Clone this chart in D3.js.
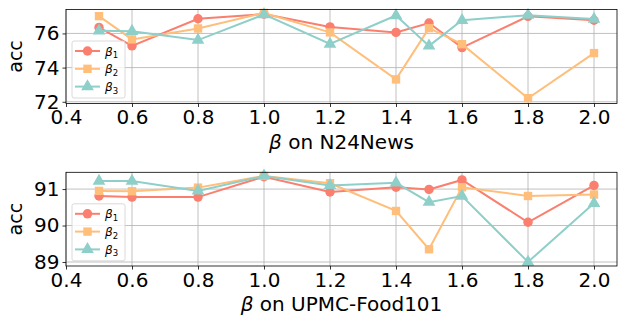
<!DOCTYPE html>
<html><head><meta charset="utf-8">
<script src="https://cdn.jsdelivr.net/npm/d3@7"></script>
<style>body{margin:0;background:#fff}svg{display:block}text{font-family:"DejaVu Sans",sans-serif}</style>
</head><body><svg id="c" width="618" height="325"></svg>
<script>
const betas = [0.5, 0.6, 0.8, 1.0, 1.2, 1.4, 1.5, 1.6, 1.8, 2.0];
const xTicks = [0.4, 0.6, 0.8, 1.0, 1.2, 1.4, 1.6, 1.8, 2.0];
const seriesNames = ["β1", "β2", "β3"];
const n24_b1 = [76.35, 75.27, 76.86, 77.13, 76.38, 76.06, 76.61, 75.17, 77.0, 76.77];
const n24_b2 = [77.01, 75.65, 76.29, 77.2, 76.06, 73.31, 76.31, 75.37, 72.21, 74.85];
const n24_b3 = [76.15, 76.13, 75.61, 77.11, 75.38, 77.05, 75.27, 76.77, 77.07, 76.84];
const n24_yTicks = [72, 74, 76];
const food_b1 = [90.81, 90.78, 90.78, 91.34, 90.92, 91.05, 90.99, 91.25, 90.09, 91.1];
const food_b2 = [90.95, 90.94, 91.04, 91.36, 91.16, 90.40, 89.35, 91.05, 90.81, 90.85];
const food_b3 = [91.22, 91.22, 90.95, 91.36, 91.1, 91.17, 90.64, 90.81, 89.0, 90.61];
const food_yTicks = [89, 90, 91];

const colors = ["#FA7F6F", "#FFBE7A", "#8ECFC9"];
const shapes = [d3.symbolCircle, d3.symbolSquare, d3.symbolTriangle];
const shapeSizes = [70, 70, 70];

const svg = d3.select("#c");
const L = 66, R = 617;

function panel(cfg) {
  const x = d3.scaleLinear().domain([0.4, 2.0]).range([L, 594]);
  // extend domain to right edge
  const x2 = d3.scaleLinear().domain([0.4, x.invert(R)]).range([L, R]);
  const y = d3.scaleLinear().domain(cfg.yDomain).range([cfg.bottom, cfg.top]);
  const g = svg.append("g");
  // grid
  g.selectAll(".gx").data(xTicks).join("line")
    .attr("x1", d => x2(d)).attr("x2", d => x2(d))
    .attr("y1", cfg.top).attr("y2", cfg.bottom)
    .attr("stroke", "#b0b0b0").attr("stroke-width", 0.8);
  g.selectAll(".gy").data(cfg.yTicks).join("line")
    .attr("x1", L).attr("x2", R)
    .attr("y1", d => y(d)).attr("y2", d => y(d))
    .attr("stroke", "#b0b0b0").attr("stroke-width", 0.8);
  // series
  const line = d3.line().x((d, i) => x2(betas[i])).y(d => y(d));
  cfg.series.forEach((s, k) => {
    g.append("path").datum(s).attr("d", line)
      .attr("fill", "none").attr("stroke", colors[k]).attr("stroke-width", 2);
    g.selectAll(".m" + k).data(s).join("path")
      .attr("transform", (d, i) => `translate(${x2(betas[i])},${y(d)})`)
      .attr("d", d3.symbol().type(shapes[k]).size(shapeSizes[k]))
      .attr("fill", colors[k]);
  });
  // axes
  const xa = g.append("g").attr("transform", `translate(0,${cfg.bottom})`)
    .call(d3.axisBottom(x2).tickValues(xTicks).tickFormat(d3.format(".1f")).tickSize(3.5).tickPadding(3));
  xa.selectAll("text").attr("font-size", 20).attr("fill", "#000");
  const ya = g.append("g").attr("transform", `translate(${L},0)`)
    .call(d3.axisLeft(y).tickValues(cfg.yTicks).tickFormat(d3.format("d")).tickSize(3.5).tickPadding(3));
  ya.selectAll("text").attr("font-size", 20).attr("fill", "#000");
  [xa, ya].forEach(a => { a.select(".domain").remove(); a.selectAll("line").attr("stroke", "#000").attr("stroke-width", 0.8); });
  // frame
  g.append("rect").attr("x", L).attr("y", cfg.top).attr("width", R - L).attr("height", cfg.bottom - cfg.top)
    .attr("fill", "none").attr("stroke", "#000").attr("stroke-width", 0.8);
  // labels
  g.append("text").attr("transform", `translate(${22},${(cfg.top + cfg.bottom) / 2}) rotate(-90)`)
    .attr("text-anchor", "middle").attr("font-size", 19).text("acc");
  const xl = g.append("text").attr("x", (L + R) / 2).attr("y", cfg.xlabelY)
    .attr("text-anchor", "middle").attr("font-size", 20);
  xl.append("tspan").attr("font-style", "italic").text("β");
  xl.append("tspan").text(" on " + cfg.name);
  // legend
  const lg = g.append("g");
  const lx = 72, ly = cfg.top + cfg.legendOff;
  lg.append("rect").attr("x", lx).attr("y", ly).attr("width", 53).attr("height", 57).attr("rx", 2)
    .attr("fill", "#fff").attr("fill-opacity", 0.8).attr("stroke", "#d0d0d0").attr("stroke-width", 0.8);
  seriesNames.forEach((nm, k) => {
    const yy = ly + 10 + k * 17.8;
    lg.append("line").attr("x1", lx + 3).attr("x2", lx + 28).attr("y1", yy).attr("y2", yy)
      .attr("stroke", colors[k]).attr("stroke-width", 2);
    lg.append("path").attr("transform", `translate(${lx + 15.5},${yy})`)
      .attr("d", d3.symbol().type(shapes[k]).size(shapeSizes[k])).attr("fill", colors[k]);
    const t = lg.append("text").attr("x", lx + 33).attr("y", yy + 4.5).attr("font-size", 12);
    t.append("tspan").attr("font-style", "italic").text("β");
    t.append("tspan").attr("font-size", 8.5).attr("dy", 2.5).text(nm.slice(1));
  });
}

panel({ name: "N24News", top: 9.5, bottom: 103.5, yDomain: [71.9, 77.4], yTicks: n24_yTicks,
  series: [n24_b1, n24_b2, n24_b3], xlabelY: 149, legendOff: 31.5 });
panel({ name: "UPMC-Food101", top: 172.3, bottom: 266, yDomain: [88.89, 91.46], yTicks: food_yTicks,
  series: [food_b1, food_b2, food_b3], xlabelY: 311, legendOff: 31.5 });
</script></body></html>
